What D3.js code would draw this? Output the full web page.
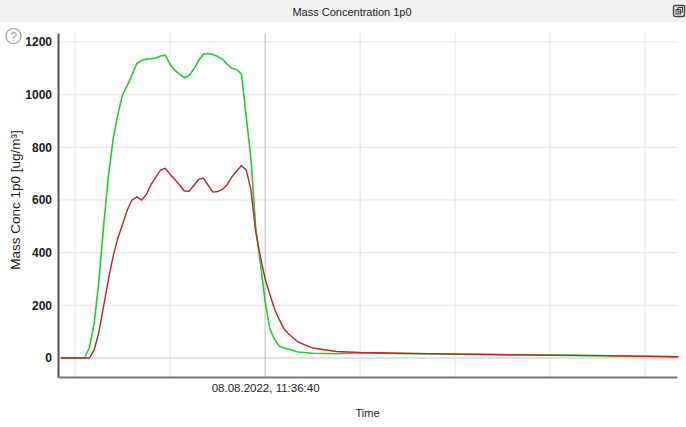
<!DOCTYPE html>
<html>
<head>
<meta charset="utf-8">
<script src="https://cdn.jsdelivr.net/npm/d3@7"></script>
<style>
  body { margin: 0; background: #fff; font-family: "Liberation Sans", Arial, sans-serif; }
  svg text { fill: #1a1a1a; }
</style>
</head>
<body>
<div id="chart"></div>
<script>
// seconds relative to the labelled tick (08.08.2022, 11:36:40)
var timeOffsets = [-43, -38, -37, -36, -35, -34, -33, -32, -31, -30, -29, -28, -27, -26, -25, -24, -23, -22, -21,
  -20, -19, -18, -17, -16, -15, -14, -13, -12, -11, -10, -9, -8, -7, -6, -5, -4, -3, -2, -1,
  0, 1, 2, 3, 4, 5, 7, 10, 15, 20, 28, 41, 54, 70, 87];
var greenValues = [0, 0, 40, 130, 290, 500, 690, 830, 925, 1000, 1035, 1075, 1118, 1130, 1135, 1136, 1139, 1147, 1150,
  1115, 1093, 1077, 1065, 1072, 1097, 1130, 1153, 1156, 1152, 1145, 1135, 1115, 1100, 1095, 1080, 920, 760, 500, 360,
  215, 110, 70, 45, 38, 33, 23, 18, 16, 20, 17, 15, 12, 9, 5];
var redValues = [0, 0, 0, 30, 98, 196, 297, 386, 455, 508, 563, 600, 612, 600, 620, 659, 687, 714, 720,
  698, 678, 657, 634, 633, 655, 678, 683, 656, 630, 632, 640, 658, 688, 710, 730, 715, 640, 480, 385,
  300, 242, 185, 145, 110, 90, 60, 38, 25, 21, 18, 15, 12, 9, 5];
var yTicks = [0, 200, 400, 600, 800, 1000, 1200];
var gridOffsets = [-40, -20, 0, 20, 40, 60, 80]; // vertical gridlines, seconds
var labelledOffset = 0;

var W = 686, H = 427;
var baseTime = new Date(2022, 7, 8, 11, 36, 40);
var toDate = function(s) { return new Date(baseTime.getTime() + s * 1000); };

var svg = d3.select("#chart").append("svg").attr("width", W).attr("height", H);

// title bar
svg.append("rect").attr("x", 0).attr("y", 0).attr("width", W).attr("height", 22).attr("fill", "#f2f2f2");
svg.append("text").attr("x", 352).attr("y", 16).attr("text-anchor", "middle")
  .attr("font-size", "11px").text("Mass Concentration 1p0");
// small icon top right
var ic = svg.append("g").attr("transform", "translate(673,5)");
ic.append("rect").attr("x", 0.5).attr("y", 0.5).attr("width", 11).attr("height", 11).attr("rx", 2)
  .attr("fill", "none").attr("stroke", "#444").attr("stroke-width", 1.4);
ic.append("rect").attr("x", 3).attr("y", 4.5).attr("width", 4.5).attr("height", 4.5)
  .attr("fill", "none").attr("stroke", "#444").attr("stroke-width", 1.1);
ic.append("rect").attr("x", 5).attr("y", 2.5).attr("width", 4.5).attr("height", 4.5)
  .attr("fill", "none").attr("stroke", "#444").attr("stroke-width", 1.1);

// help icon
svg.append("circle").attr("cx", 13.5).attr("cy", 36).attr("r", 7.5)
  .attr("fill", "none").attr("stroke", "#9a9a9a").attr("stroke-width", 1.2);
svg.append("text").attr("x", 13.5).attr("y", 40.5).attr("text-anchor", "middle")
  .attr("font-size", "12px").style("fill", "#9a9a9a").text("?");

var pLeft = 58, pRight = 677, pTop = 33, pBottom = 377;
var x = d3.scaleTime().domain([toDate(-43.6), toDate(86.7)]).range([pLeft, pRight]);
var y = d3.scaleLinear().domain([-72, 1234]).range([pBottom, pTop]);

// horizontal grid
svg.append("g").selectAll("line").data(yTicks).enter().append("line")
  .attr("x1", pLeft).attr("x2", pRight)
  .attr("y1", d => y(d)).attr("y2", d => y(d))
  .attr("stroke", d => d === 0 ? "#c4c4c4" : "#e6e6e6").attr("stroke-width", 1);
// vertical grid
svg.append("g").selectAll("line").data(gridOffsets).enter().append("line")
  .attr("x1", d => x(toDate(d))).attr("x2", d => x(toDate(d)))
  .attr("y1", pTop).attr("y2", pBottom)
  .attr("stroke", d => d === labelledOffset ? "#b8b8b8" : "#e6e6e6").attr("stroke-width", 1);

// y axis
var yAxis = d3.axisLeft(y).tickValues(yTicks).tickSize(0).tickPadding(6).tickFormat(d3.format("d"));
var gy = svg.append("g").attr("transform", "translate(" + pLeft + ",0)").call(yAxis);
gy.select(".domain").attr("stroke", "#555").attr("stroke-width", 2);
gy.selectAll("text").attr("font-size", "12px").attr("font-family", "Liberation Sans, Arial, sans-serif")
  .attr("font-weight", "bold").style("fill", "#1a1a1a");

// x axis
var fmt = d3.timeFormat("%d.%m.%Y, %H:%M:%S");
var xAxis = d3.axisBottom(x).tickValues([toDate(labelledOffset)]).tickSize(0).tickPadding(7).tickFormat(fmt);
var gx = svg.append("g").attr("transform", "translate(0," + pBottom + ")").call(xAxis);
gx.select(".domain").attr("stroke", "#777").attr("stroke-width", 2);
gx.selectAll("text").attr("font-size", "11.5px").attr("font-family", "Liberation Sans, Arial, sans-serif")
  .style("fill", "#1a1a1a");

// axis titles
svg.append("text").attr("x", (pLeft + pRight) / 2).attr("y", 417).attr("text-anchor", "middle")
  .attr("font-size", "11px").text("Time");
svg.append("text").attr("transform", "translate(20," + y(600) + ") rotate(-90)")
  .attr("text-anchor", "middle").attr("font-size", "13.5px").text("Mass Conc 1p0 [ug/m\u00b3]");

// lines
var line = d3.line().x((d, i) => x(toDate(timeOffsets[i]))).y(d => y(d));
svg.append("path").datum(greenValues).attr("d", line)
  .attr("fill", "none").attr("stroke", "#22cc33").attr("stroke-width", 1.6);
svg.append("path").datum(redValues).attr("d", line)
  .attr("fill", "none").attr("stroke", "#c2222c").attr("stroke-width", 1.4);
</script>
</body>
</html>
